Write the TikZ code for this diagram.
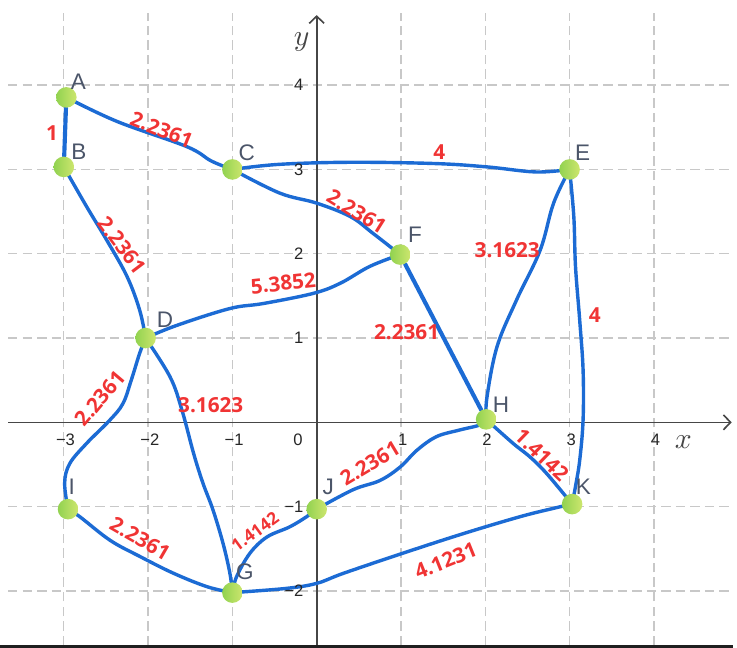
\documentclass[tikz,border=0pt]{standalone}
\usepackage{fontspec}
\setmainfont{Liberation Sans}
\newfontfamily\wfam{Open Sans}
\newfontfamily\pfam{Liberation Sans}
\usetikzlibrary{arrows.meta}
\definecolor{edgeblue}{RGB}{28,107,212}
\definecolor{wred}{RGB}{240,52,52}
\definecolor{gridgray}{RGB}{200,200,200}
\definecolor{axisgray}{RGB}{70,70,70}
\definecolor{ptgray}{RGB}{75,85,105}
\definecolor{dotL}{RGB}{145,210,80}
\definecolor{dotR}{RGB}{205,230,110}
\pgfdeclarelayer{bg}
\pgfdeclarelayer{edges}
\pgfsetlayers{bg,edges,main}
\begin{document}
\begin{tikzpicture}[
  dot/.style={circle, minimum size=0.244cm, inner sep=0pt, left color=dotL, right color=dotR, draw=none},
  ptlabel/.style={text=ptgray, font=\pfam\fontsize{7.6}{8}\selectfont, inner sep=0pt},
  wlabel/.style={text=wred, font=\wfam\bfseries\fontsize{7}{7.5}\selectfont, inner sep=0pt},
  wsmall/.style={text=wred, font=\wfam\bfseries\fontsize{5.8}{6}\selectfont, inner sep=0pt},
  ticklbl/.style={text=black!85, font=\pfam\fontsize{5.6}{6}\selectfont, inner sep=0pt},
  edge/.style={draw=edgeblue, line width=1.15pt, line cap=round, line join=round},
  thickedge/.style={edge, line width=1.4pt},
  gridline/.style={draw=gridgray, line width=0.45pt, dash pattern=on 3.2pt off 1.7pt},
  axisline/.style={draw=axisgray, line width=0.55pt, -{Straight Barb[length=2.4pt,width=5pt]}},
]
\useasboundingbox (-3.757,-2.677) rectangle (4.986,5.010);

% ---------- grid, axes ----------
\begin{pgfonlayer}{bg}
  \foreach \gx in {-3,-2,-1,1,2,3,4}
    \draw[gridline] (\gx,-2.642) -- (\gx,4.85);
  \foreach \gy in {-2,-1,1,2,3,4}
    \draw[gridline] (-3.662,\gy) -- (4.93,\gy);
  \draw[axisline] (-3.662,0) -- (4.923,0);
  \draw[axisline] (0,-2.642) -- (0,4.831);
  \fill[black!88] (-3.757,-2.677) rectangle (4.938,-2.642);
\end{pgfonlayer}

\node[text=axisgray] (xlab) at (4.349,-0.23) {\fontsize{10}{12}\selectfont$x$};
\node[text=axisgray] (ylab) at (-0.178,4.515) {\fontsize{10}{12}\selectfont$y$};

\foreach \tx/\tl in {-3/−3,-2/−2,-1/−1,1/1,2/2,3/3,4/4}
  \node[ticklbl] (tx\tx) at (\tx+0.02,-0.21) {\tl};
\node[ticklbl] (t0) at (-0.221,-0.21) {0};
\foreach \ty/\tl in {4/4,3/3,2/2,1/1,-1/−1,-2/−2}
  \node[ticklbl, anchor=east] (ty\ty) at (-0.15,\ty) {\tl};

% ---------- vertices ----------
\node[dot] (A) at (-2.97,3.855) {};
\node[dot] (B) at (-3.00,3.03) {};
\node[dot] (C) at (-1.00,3.00) {};
\node[dot] (D) at (-2.03,1.00) {};
\node[dot] (E) at (3.00,3.00) {};
\node[dot] (F) at (0.99,1.99) {};
\node[dot] (G) at (-1.00,-2.02) {};
\node[dot] (H) at (2.01,0.035) {};
\node[dot] (I) at (-2.95,-1.03) {};
\node[dot] (J) at (0.00,-1.03) {};
\node[dot] (K) at (3.03,-0.97) {};

\node[ptlabel] (nA) at (-2.828,4.04) {A};
\node[ptlabel] (nB) at (-2.820,3.21) {B};
\node[ptlabel] (nC) at (-0.830,3.198) {C};
\node[ptlabel] (nD) at (-1.80,1.215) {D};
\node[ptlabel] (nE) at (3.155,3.203) {E};
\node[ptlabel] (nF) at (1.166,2.222) {F};
\node[ptlabel] (nG) at (-0.851,-1.772) {G};
\node[ptlabel] (nH) at (2.186,0.205) {H};
\node[ptlabel] (nI) at (-2.906,-0.764) {I};
\node[ptlabel] (nJ) at (0.138,-0.771) {J};
\node[ptlabel] (nK) at (3.163,-0.764) {K};

% ---------- edges ----------
\begin{pgfonlayer}{edges}
  \draw[thickedge] (A) -- (B);
  \draw[edge] plot[smooth, tension=0.6] coordinates {(A) (-2.37,3.57) (-1.54,3.27) (-1.25,3.10) (C)};
  \draw[edge] plot[smooth, tension=0.6] coordinates {(B) (-2.73,2.56) (-2.49,2.16) (-2.25,1.73) (-2.10,1.33) (D)};
  \draw[edge] plot[smooth, tension=0.6] coordinates {(C) (-0.45,3.06) (0.4,3.085) (1.4,3.07) (2.02,3.03) (2.6,2.97) (E)};
  \draw[edge] plot[smooth, tension=0.6] coordinates {(C) (-0.44,2.72) (0,2.60) (0.40,2.44) (0.67,2.24) (F)};
  \draw[edge] plot[smooth, tension=0.6] coordinates {(D) (-1.66,1.15) (-1.03,1.35) (-0.63,1.41) (-0.04,1.53) (0.28,1.65) (0.63,1.85) (F)};
  \draw[edge] plot[smooth, tension=0.6] coordinates {(E) (2.81,2.60) (2.65,2.04) (2.37,1.45) (2.14,0.90) (2.02,0.30) (H)};
  \draw[edge] plot[smooth, tension=0.6] coordinates {(E) (3.05,2.44) (3.07,1.85) (3.12,1.21) (3.16,0.62) (3.16,0.03) (3.12,-0.45) (3.07,-0.76) (K)};
  \draw[thickedge] (F) -- (H);
  \draw[edge] plot[smooth, tension=0.6] coordinates {(D) (-2.10,0.82) (-2.20,0.50) (-2.30,0.22) (-2.46,0.02) (-2.73,-0.25) (-2.93,-0.49) (-2.99,-0.72) (I)};
  \draw[edge] plot[smooth, tension=0.6] coordinates {(D) (-1.74,0.54) (-1.60,0.15) (-1.46,-0.37) (-1.35,-0.72) (-1.23,-1.04) (-1.11,-1.44) (-1.03,-1.79) (G)};
  \draw[edge] plot[smooth, tension=0.6] coordinates {(I) (-2.81,-1.12) (-2.45,-1.40) (-2.10,-1.59) (-1.70,-1.79) (-1.30,-1.95) (G)};
  \draw[edge] plot[smooth, tension=0.6] coordinates {(G) (-0.95,-1.83) (-0.79,-1.55) (-0.59,-1.36) (-0.32,-1.24) (-0.12,-1.12) (J)};
  \draw[edge] plot[smooth, tension=0.6] coordinates {(J) (0.43,-0.80) (0.75,-0.69) (0.99,-0.53) (1.19,-0.33) (1.42,-0.17) (1.70,-0.09) (1.94,-0.03) (H)};
  \draw[edge] plot[smooth, tension=0.6] coordinates {(H) (2.33,-0.25) (2.53,-0.41) (2.73,-0.61) (K)};
  \draw[edge] plot[smooth, tension=0.6] coordinates {(G) (-0.36,-1.97) (0,-1.91) (0.32,-1.79) (1.03,-1.55) (1.74,-1.32) (2.41,-1.12) (2.81,-1.02) (K)};
\end{pgfonlayer}

% ---------- weights ----------
\node[wlabel] (wAB) at (-3.14,3.43) {1};
\node[wlabel, rotate=-22] (wAC) at (-1.84,3.47) {2.2361};
\node[wlabel, rotate=-53] (wBD) at (-2.31,2.10) {2.2361};
\node[wlabel] (wCE) at (1.455,3.20) {4};
\node[wlabel, rotate=-32] (wCF) at (0.474,2.498) {2.2361};
\node[wlabel, rotate=6] (wDF) at (-0.396,1.649) {5.3852};
\node[wlabel] (wEH) at (2.26,2.045) {3.1623};
\node[wlabel] (wEK) at (3.30,1.273) {4};
\node[wlabel] (wFH) at (1.066,1.071) {2.2361};
\node[wlabel, rotate=50] (wDI) at (-2.569,0.285) {2.2361};
\node[wlabel] (wDG) at (-1.257,0.205) {3.1623};
\node[wlabel, rotate=-30] (wIG) at (-2.096,-1.376) {2.2361};
\node[wsmall, rotate=36] (wGJ) at (-0.732,-1.298) {1.4142};
\node[wlabel, rotate=31] (wJH) at (0.632,-0.486) {2.2361};
\node[wlabel, rotate=-44] (wHK) at (2.67,-0.39) {1.4142};
\node[wlabel, rotate=22] (wGK) at (1.530,-1.642) {4.1231};
\end{tikzpicture}
\end{document}
